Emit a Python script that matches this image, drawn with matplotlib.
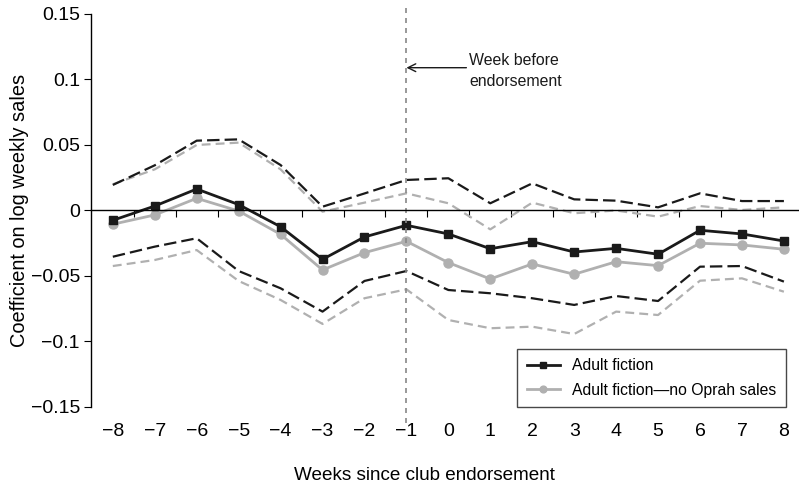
import matplotlib
matplotlib.use("Agg")
import matplotlib.pyplot as plt
from matplotlib.ticker import FixedLocator, FixedFormatter

plt.rcParams["font.family"] = ["Liberation Sans", "DejaVu Sans"]

# Data
weeks = list(range(-8, 9))
week_labels = ["\u22128", "\u22127", "\u22126", "\u22125", "\u22124", "\u22123", "\u22122", "\u22121",
               "0", "1", "2", "3", "4", "5", "6", "7", "8"]

fiction = [-0.0075, 0.0034, 0.0164, 0.0045, -0.0124, -0.0373, -0.0202, -0.0113, -0.0179,
           -0.0292, -0.0238, -0.0317, -0.0289, -0.0334, -0.0151, -0.0179, -0.0233]
fiction_hi = [0.0195, 0.0345, 0.0533, 0.0543, 0.0347, 0.0029, 0.0130, 0.0233, 0.0246,
              0.0055, 0.0207, 0.0085, 0.0075, 0.0024, 0.0131, 0.0072, 0.0072]
fiction_lo = [-0.0353, -0.0276, -0.0212, -0.0462, -0.0594, -0.0772, -0.0538, -0.0462, -0.0607,
              -0.0632, -0.0670, -0.0721, -0.0653, -0.0691, -0.0429, -0.0424, -0.0543]

no_oprah = [-0.0105, -0.0034, 0.0093, -0.0004, -0.0182, -0.0454, -0.0322, -0.0235, -0.0398,
            -0.0523, -0.0408, -0.0487, -0.0391, -0.0421, -0.0250, -0.0263, -0.0296]
no_oprah_hi = [0.0200, 0.0314, 0.0500, 0.0518, 0.0314, -0.0009, 0.0060, 0.0131, 0.0055,
               -0.0144, 0.0060, -0.0021, 0.0000, -0.0047, 0.0034, 0.0004, 0.0024]
no_oprah_lo = [-0.0424, -0.0378, -0.0302, -0.0538, -0.0683, -0.0866, -0.0670, -0.0602, -0.0836,
               -0.0899, -0.0887, -0.0943, -0.0772, -0.0798, -0.0536, -0.0518, -0.0620]

y_ticks = [-0.15, -0.1, -0.05, 0, 0.05, 0.1, 0.15]
y_labels = ["\u22120.15", "\u22120.1", "\u22120.05", "0", "0.05", "0.1", "0.15"]

black = "#1a1a1a"
gray = "#b0b0b0"

fig = plt.figure(figsize=(7.99, 4.86), dpi=100)
ax = fig.add_axes([0.1139, 0.1626, 0.8861, 0.8086])

# confidence bands as dashed lines
ax.plot(weeks, no_oprah_hi, color=gray, lw=1.6, dashes=(4.0, 2.3))
ax.plot(weeks, no_oprah_lo, color=gray, lw=1.6, dashes=(4.0, 2.3))
ax.plot(weeks, fiction_hi, color=black, lw=1.6, dashes=(5.6, 2.3))
ax.plot(weeks, fiction_lo, color=black, lw=1.6, dashes=(5.6, 2.3))

# point estimates
ax.plot(weeks, no_oprah, color=gray, lw=2, marker="o", ms=6.5,
        label="Adult fiction\u2014no Oprah sales")
ax.plot(weeks, fiction, color=black, lw=2, marker="s", ms=6,
        label="Adult fiction")

# week before endorsement marker line
ax.plot([-1, -1], [-0.162, 0.1545], color="#888888", lw=1.2, dashes=(3, 3),
        clip_on=False)
ax.annotate("", xy=(-1, 0.109), xytext=(0.43, 0.109),
            arrowprops=dict(arrowstyle="->", color=black, lw=1, mutation_scale=14,
                            shrinkA=0, shrinkB=0))
ax.text(0.5, 0.1065, "Week before\nendorsement", fontsize=11.4, color=black,
        ha="left", va="center", linespacing=1.45)

ax.set_xlim(-8.52, 8.36)
ax.set_ylim(-0.15, 0.15)

ax.spines["top"].set_visible(False)
ax.spines["right"].set_visible(False)
ax.spines["bottom"].set_position(("data", 0))
ax.spines["bottom"].set_linewidth(1)
ax.spines["left"].set_linewidth(1)

ax.xaxis.set_major_locator(FixedLocator([w + 0.5 for w in weeks[:-1]]))
ax.tick_params(axis="x", direction="out", length=5, labelbottom=False)
for w, lab in zip(weeks, week_labels):
    ax.text(w, -0.169, lab, ha="center", va="center", fontsize=14, clip_on=False)

ax.yaxis.set_major_locator(FixedLocator(y_ticks))
ax.yaxis.set_major_formatter(FixedFormatter(y_labels))
ax.tick_params(axis="y", direction="out", length=5, labelsize=14, pad=3)

fig.text(0.531, 0.022, "Weeks since club endorsement", ha="center", va="center",
         fontsize=13.6)
fig.text(0.024, 0.566, "Coefficient on log weekly sales", ha="center", va="center",
         rotation=90, fontsize=14.4)

handles, labels = ax.get_legend_handles_labels()
leg = ax.legend(handles[::-1], labels[::-1], loc="lower right",
                bbox_to_anchor=(0.9816, 0), borderaxespad=0, fancybox=False,
                edgecolor=black, fontsize=11.3, handlelength=2.1, markerscale=0.75,
                borderpad=0.6, labelspacing=0.6)
leg.get_frame().set_linewidth(1)

fig.savefig("out.png", dpi=100)
